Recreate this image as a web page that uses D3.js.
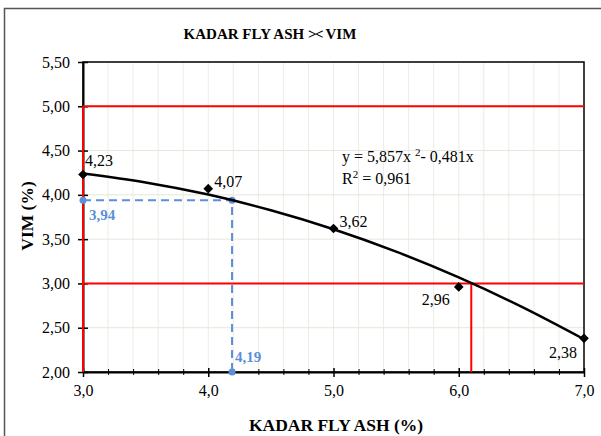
<!DOCTYPE html>
<html><head><meta charset="utf-8">
<script src="https://cdn.jsdelivr.net/npm/d3@7"></script>
<style>body{margin:0;background:#fff}svg{display:block}text{font-family:"Liberation Serif","Times New Roman",serif}</style>
</head><body>
<svg id="c" width="601" height="436"></svg>
<script>
const dataX = [3, 4, 5, 6, 7];
const dataY = [4.23, 4.07, 3.62, 2.96, 2.38];
const dataLabels = ["4,23", "4,07", "3,62", "2,96", "2,38"];
const trendX = [3, 3.5, 4, 4.5, 5, 5.5, 6, 6.5, 7];
const trendY = [4.24, 4.14, 4.003, 3.826, 3.612, 3.359, 3.068, 2.738, 2.37];
const limitY = [5.0, 3.0];
const limitX = [3.0, 6.1];
const readX = 4.19, readY = 3.94;
const xTicks = [3, 4, 5, 6, 7];
const yTicks = [2.0, 2.5, 3.0, 3.5, 4.0, 4.5, 5.0, 5.5];
const fmt = (v, d) => v.toFixed(d).replace(".", ",");
const SERIF = '"Liberation Serif","Times New Roman",serif';

const svg = d3.select("#c");
const L = 83, R = 584, T = 62, B = 372;
const x = d3.scaleLinear().domain([3, 7]).range([L, R]);
const y = d3.scaleLinear().domain([2, 5.5]).range([B, T]);

// outer frame
svg.append("rect").attr("x", 4.5).attr("y", 8.5).attr("width", 620).attr("height", 440)
  .attr("fill", "none").attr("stroke", "#555").attr("stroke-width", 1.5);

// gridlines
const g = svg.append("g");
d3.range(3.2, 7, 0.2).forEach(v => g.append("line").attr("x1", x(v)).attr("x2", x(v)).attr("y1", T).attr("y2", B).attr("stroke", "#ececE4").attr("stroke-width", 1));
yTicks.forEach(v => g.append("line").attr("x1", L).attr("x2", R).attr("y1", y(v)).attr("y2", y(v)).attr("stroke", "#e6e6dc").attr("stroke-width", 1));

// plot frame
svg.append("rect").attr("x", L).attr("y", T).attr("width", R - L).attr("height", B - T)
  .attr("fill", "none").attr("stroke", "#000").attr("stroke-width", 1.5);

// axes
const xa = svg.append("g").attr("transform", `translate(0,${B})`)
  .call(d3.axisBottom(x).tickValues(xTicks).tickFormat(d => fmt(d, 1)).tickSize(5).tickSizeOuter(0));
xa.attr("font-family", SERIF);
xa.selectAll(".tick line").attr("y1", -4).attr("stroke-width", 1.5);
const xm = svg.append("g").attr("transform", `translate(0,${B})`)
  .call(d3.axisBottom(x).tickValues(d3.range(3.2, 7, 0.2).filter(v => Math.abs(v - Math.round(v)) > 0.01)).tickFormat("").tickSize(3).tickSizeOuter(0));
xm.selectAll(".tick line").attr("y1", -3);
xm.select(".domain").remove();
xa.select(".domain").attr("stroke-width", 2);
xa.selectAll("text").attr("font-size", 16).attr("y", 9).attr("dy", "0.95em").attr("fill", "#000").style("font-family", SERIF);

const ya = svg.append("g").attr("transform", `translate(${L},0)`)
  .call(d3.axisLeft(y).tickValues(yTicks).tickFormat(d => fmt(d, 2)).tickSize(5).tickSizeOuter(0));
ya.attr("font-family", SERIF);
ya.selectAll(".tick line").attr("x1", 5).attr("stroke-width", 1.5);
ya.select(".domain").attr("stroke-width", 2);
ya.selectAll("text").attr("font-size", 16).attr("x", -13).attr("fill", "#000").style("font-family", SERIF);

// red limit lines
const red = "#ff0000";
svg.append("line").attr("x1", x(3)).attr("x2", x(7)).attr("y1", y(limitY[0])).attr("y2", y(limitY[0])).attr("stroke", red).attr("stroke-width", 2);
svg.append("line").attr("x1", x(3)).attr("x2", x(7)).attr("y1", y(limitY[1])).attr("y2", y(limitY[1])).attr("stroke", red).attr("stroke-width", 2);
svg.append("line").attr("x1", x(limitX[0])).attr("x2", x(limitX[0])).attr("y1", y(2)).attr("y2", y(limitY[0])).attr("stroke", red).attr("stroke-width", 2);
svg.append("line").attr("x1", x(limitX[1])).attr("x2", x(limitX[1])).attr("y1", y(2)).attr("y2", y(limitY[1])).attr("stroke", red).attr("stroke-width", 2);

// blue reading lines
const blue = "#5b8fd9";
svg.append("path").attr("d", d3.line()([[x(3), y(readY)], [x(readX), y(readY)], [x(readX), y(2)]]))
  .attr("fill", "none").attr("stroke", blue).attr("stroke-width", 2).attr("stroke-dasharray", "8,5");
[[3, readY], [readX, readY], [readX, 2]].forEach(p => svg.append("circle").attr("cx", x(p[0])).attr("cy", y(p[1])).attr("r", 3.5).attr("fill", blue));
svg.append("text").attr("x", x(3) + 6).attr("y", y(readY) + 20).attr("fill", blue).attr("font-weight", "bold").attr("font-size", 15).text(fmt(readY, 2));
svg.append("text").attr("x", x(readX) + 3).attr("y", y(2) - 10).attr("fill", blue).attr("font-weight", "bold").attr("font-size", 15).text(fmt(readX, 2));

// trend curve
const pts = trendX.map((v, i) => [x(v), y(trendY[i])]);
svg.append("path").attr("d", d3.line().curve(d3.curveCatmullRom)(pts))
  .attr("fill", "none").attr("stroke", "#000").attr("stroke-width", 2.5);

// markers
const sym = d3.symbol().type(d3.symbolDiamond2).size(60);
dataX.forEach((v, i) => svg.append("path").attr("d", sym()).attr("transform", `translate(${x(v)},${y(dataY[i])})`).attr("fill", "#000"));

// data labels
const lblOff = [[2, -8, "start"], [6, -2, "start"], [6, -2, "start"], [-9, 18, "end"], [-7, 20, "end"]];
dataX.forEach((v, i) => svg.append("text").attr("x", x(v) + lblOff[i][0]).attr("y", y(dataY[i]) + lblOff[i][1])
  .attr("text-anchor", lblOff[i][2]).attr("font-size", 16).attr("fill", "#000").text(dataLabels[i]));

// equation
const eq = svg.append("text").attr("x", 342).attr("y", 162).attr("font-size", 16).attr("fill", "#000");
eq.append("tspan").text("y = 5,857x ");
eq.append("tspan").attr("font-size", 11).attr("dy", -6).text("2");
eq.append("tspan").attr("dy", 6).text("- 0,481x");
const r2 = svg.append("text").attr("x", 342).attr("y", 184).attr("font-size", 16).attr("fill", "#000");
r2.append("tspan").text("R");
r2.append("tspan").attr("font-size", 11).attr("dy", -6).text("2");
r2.append("tspan").attr("dy", 6).text(" = 0,961");

// titles
const t = svg.append("text").attr("x", 270).attr("y", 39).attr("text-anchor", "middle").attr("font-size", 15).attr("font-weight", "bold").attr("fill", "#000");
t.append("tspan").text("KADAR FLY ASH ");
t.append("tspan").attr("letter-spacing", -1.5).text("><");
t.append("tspan").text(" VIM");
svg.append("text").attr("x", 336).attr("y", 431).attr("text-anchor", "middle").attr("font-size", 17.5).attr("font-weight", "bold").attr("fill", "#000").text("KADAR FLY ASH (%)");
svg.append("text").attr("transform", "translate(33,216) rotate(-90)").attr("text-anchor", "middle").attr("font-size", 17.5).attr("font-weight", "bold").attr("fill", "#000").text("VIM (%)");
</script>
</body></html>
